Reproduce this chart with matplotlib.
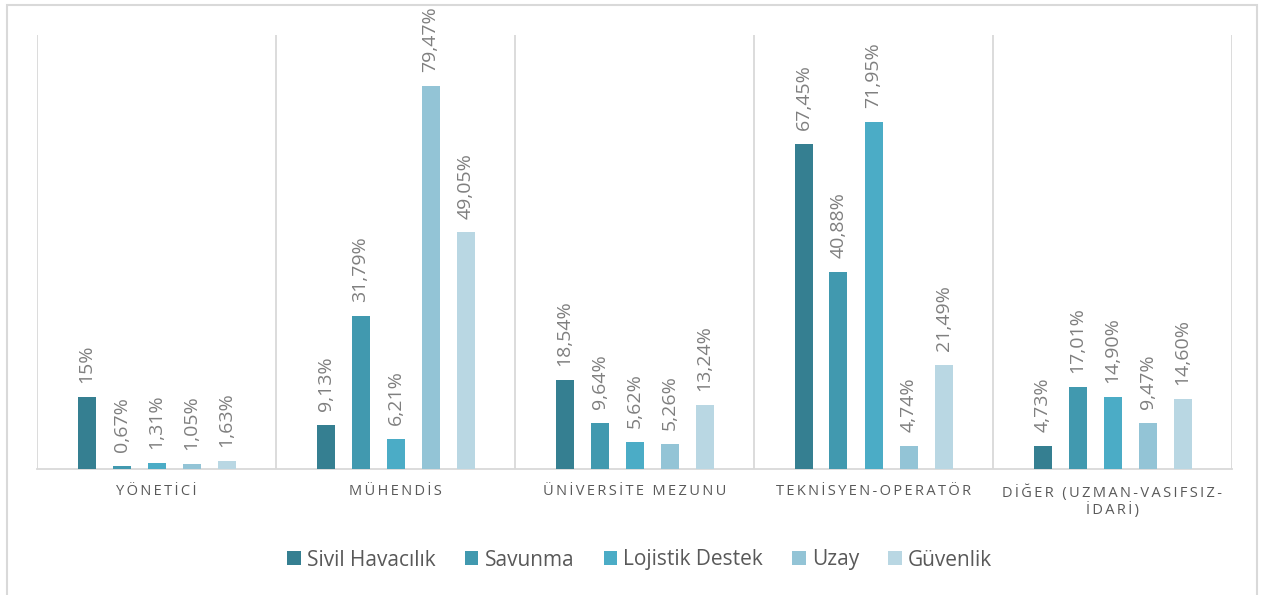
import matplotlib
matplotlib.use("Agg")
import matplotlib.pyplot as plt
import matplotlib.patches as patches
import numpy as np

plt.rcParams['font.family'] = ['Open Sans', 'DejaVu Sans']

categories = ["YÖNETİCİ", "MÜHENDİS", "ÜNİVERSİTE MEZUNU",
              "TEKNİSYEN-OPERATÖR", "DİĞER (UZMAN-VASIFSIZ-\nİDARİ)"]
series = ["Sivil Havacılık", "Savunma", "Lojistik Destek", "Uzay", "Güvenlik"]
sivil = [15.00, 9.13, 18.54, 67.45, 4.73]
savunma = [0.67, 31.79, 9.64, 40.88, 17.01]
lojistik = [1.31, 6.21, 5.62, 71.95, 14.90]
uzay = [1.05, 79.47, 5.26, 4.74, 9.47]
guvenlik = [1.63, 49.05, 13.24, 21.49, 14.60]
labels = [
    ["15%", "9,13%", "18,54%", "67,45%", "4,73%"],
    ["0,67%", "31,79%", "9,64%", "40,88%", "17,01%"],
    ["1,31%", "6,21%", "5,62%", "71,95%", "14,90%"],
    ["1,05%", "79,47%", "5,26%", "4,74%", "9,47%"],
    ["1,63%", "49,05%", "13,24%", "21,49%", "14,60%"],
]
colors = ["#357f91", "#4199af", "#4bacc6", "#93c4d6", "#b9d7e3"]


def spaced(s):
    # mimic the wide letter tracking of the category labels
    return "\n".join("\u2009".join(line) for line in s.split("\n"))


fig = plt.figure(figsize=(12.67, 5.95), dpi=100)
ax = fig.add_axes([37 / 1267, 126 / 595, 1195 / 1267, 434 / 595])

# outer chart border
border = patches.Rectangle((7 / 1267, -0.05), 1250 / 1267, 1.05 - 5 / 595,
                           transform=fig.transFigure, fill=False,
                           edgecolor="#d9d9d9", linewidth=1.5)
fig.patches.append(border)

x = np.arange(len(categories))
pitch = 35 / 239
width = 18 / 239
data = [sivil, savunma, lojistik, uzay, guvenlik]
for i, (name, vals, col) in enumerate(zip(series, data, colors)):
    pos = x + (i - 2) * pitch
    bars = ax.bar(pos, vals, width, color=col, label=name, zorder=3)
    for b, lab in zip(bars, labels[i]):
        ax.annotate(lab, (b.get_x() + b.get_width() / 2, b.get_height()),
                    xytext=(0, 10), textcoords="offset points",
                    rotation=90, ha="center", va="bottom",
                    fontsize=14, color="#7f7f7f")

ax.set_xlim(-0.5, len(categories) - 0.5)
ax.set_ylim(0, 90)
for s in np.arange(-0.5, len(categories), 1.0):
    ax.axvline(s, color="#d9d9d9", linewidth=1.3, zorder=1)
ax.set_yticks([])
ax.set_xticks(x)
ax.set_xticklabels([spaced(c) for c in categories], fontsize=10.5,
                   color="#595959", linespacing=1.1)
ax.tick_params(axis="x", length=0, pad=11)
for side in ["top", "left", "right"]:
    ax.spines[side].set_visible(False)
ax.spines["bottom"].set_color("#d9d9d9")
ax.spines["bottom"].set_linewidth(1.3)

fig.legend(loc="center", bbox_to_anchor=(0.505, 1 - 560 / 595), ncol=5,
           frameon=False, fontsize=15, handlelength=0.65, handleheight=0.65,
           handletextpad=0.3, columnspacing=1.4, labelcolor="#595959")

fig.savefig("out.png", dpi=100)
